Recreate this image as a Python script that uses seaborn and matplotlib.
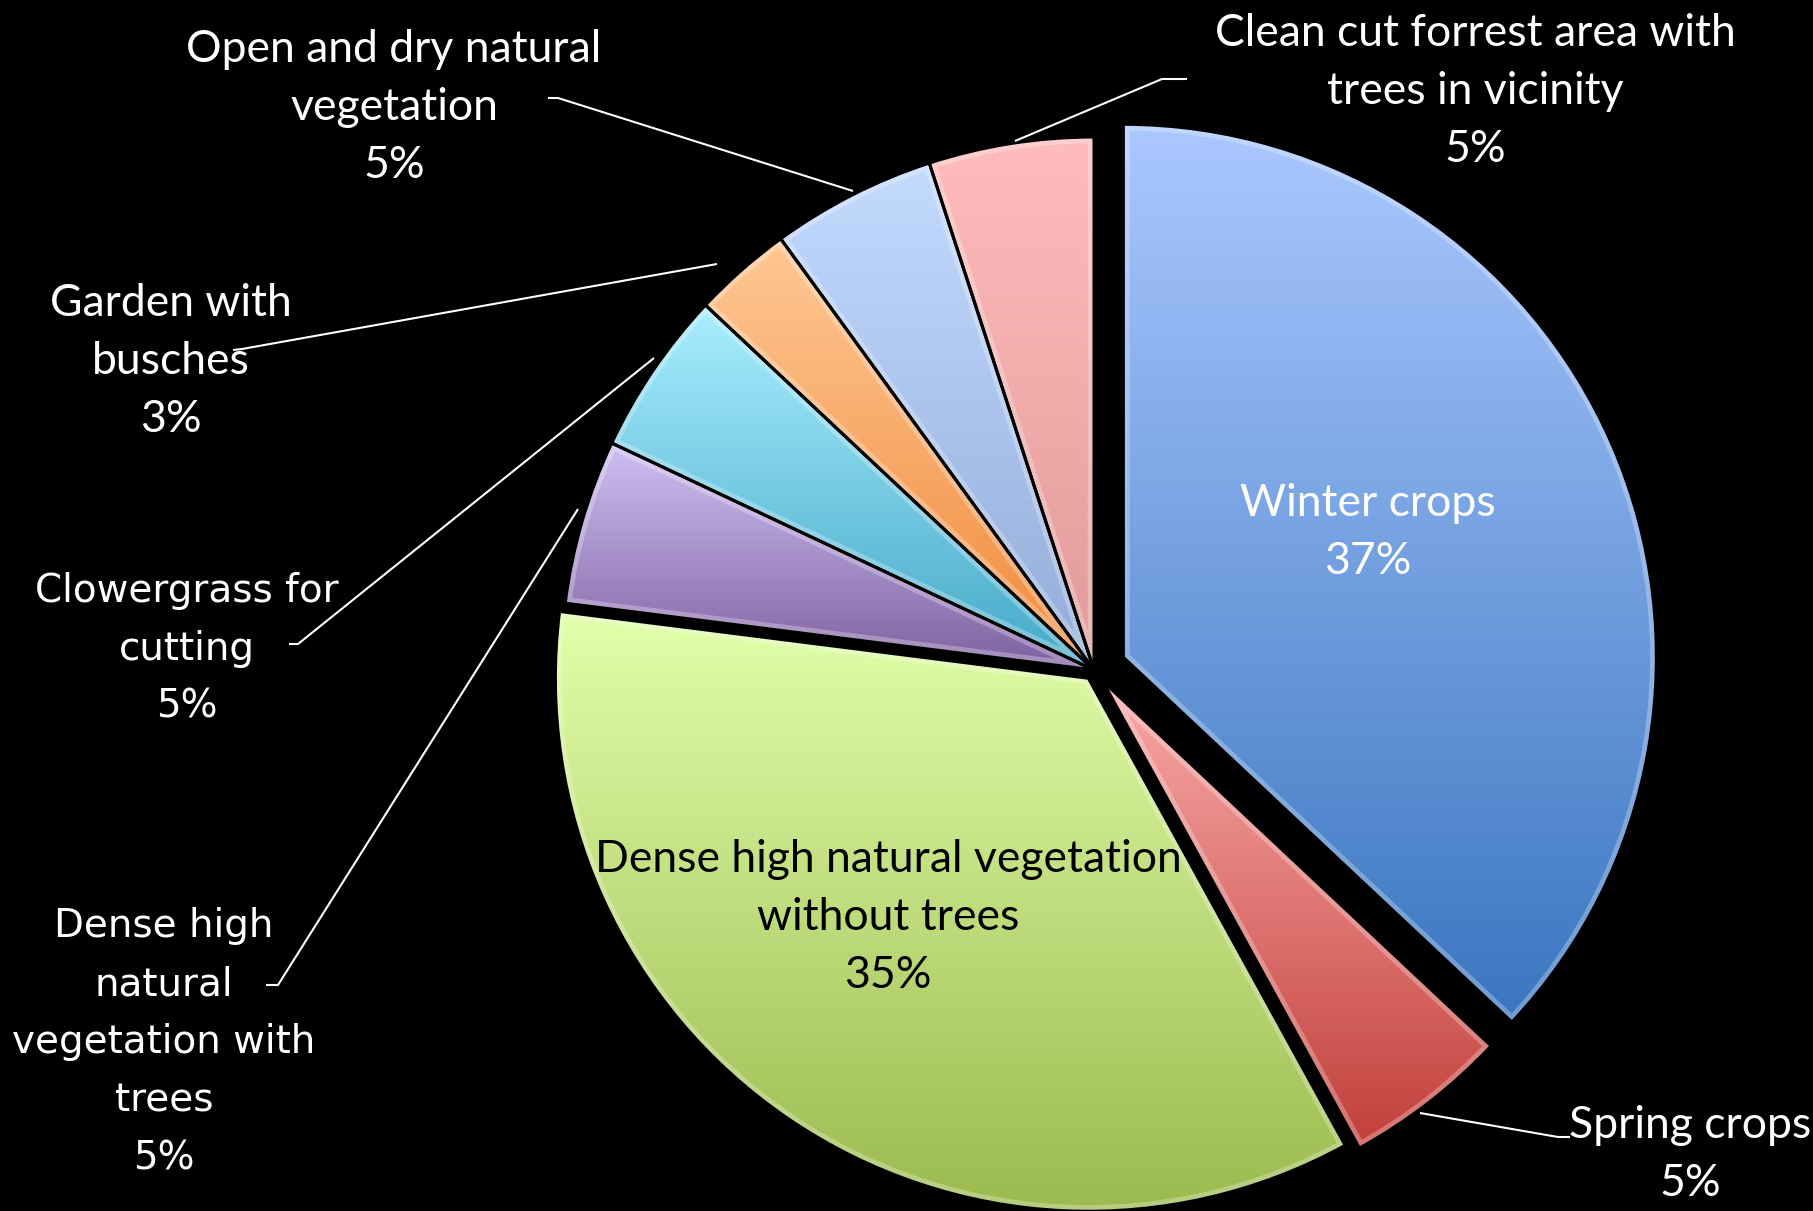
import numpy as np
import matplotlib
matplotlib.use("Agg")
import matplotlib.pyplot as plt
from matplotlib.patches import Wedge
import seaborn as sns

# Land-use shares (percent), clockwise from 12 o'clock
categories = [
    "Winter crops",
    "Spring crops",
    "Dense high natural vegetation without trees",
    "Dense high natural vegetation with trees",
    "Clowergrass for cutting",
    "Garden with busches",
    "Open and dry natural vegetation",
    "Clean cut forrest area with trees in vicinity",
]
shares = [37, 5, 35, 5, 5, 3, 5, 5]

# Label text, broken into lines as displayed
label_lines = [
    ["Winter crops"],
    ["Spring crops"],
    ["Dense high natural vegetation", "without trees"],
    ["Dense high", "natural", "vegetation with", "trees"],
    ["Clowergrass for", "cutting"],
    ["Garden with", "busches"],
    ["Open and dry natural", "vegetation"],
    ["Clean cut forrest area with", "trees in vicinity"],
]

# Gradient colours for each slice (top, bottom)
top_colors = ["#abc8ff", "#f9aaa8", "#e2ffab", "#d0c0f2", "#aaeeff", "#ffc894", "#c4dbff", "#ffbcbc"]
bottom_colors = ["#3a76c0", "#c23f3b", "#9bba4e", "#7e60a0", "#44a8c8", "#f08a3c", "#93acd8", "#e29a9a"]

sns.set_style("white")

W, H = 1813, 1211
fig = plt.figure(figsize=(W / 100, H / 100), dpi=100, facecolor="black")
ax = fig.add_axes([0, 0, 1, 1])
ax.set_facecolor("black")

cx, cy, R = 1094, H - 670, 533
explode = [32, 14, 10, 0, 0, 0, 0, 0]

wedges, _ = ax.pie(
    shares, startangle=90, counterclock=False, radius=R,
    center=(cx, cy), explode=explode,
    wedgeprops=dict(linewidth=0),
)

for w, top, bot in zip(wedges, top_colors, bottom_colors):
    w.set_facecolor("none")
    bb = w.get_path().get_extents()
    ramp = np.array(sns.blend_palette([bot, top], n_colors=256))[:, None, :]
    im = ax.imshow(ramp, extent=[bb.x0, bb.x1, bb.y0, bb.y1], origin="lower",
                   aspect="auto", interpolation="bilinear", zorder=1)
    im.set_clip_path(w)
    # soft bevel along the slice border
    rim = Wedge(w.center, w.r, w.theta1, w.theta2, facecolor="none",
                edgecolor="white", linewidth=9, alpha=0.28, zorder=2)
    ax.add_patch(rim)
    rim.set_clip_path(w)
    w.set_edgecolor("black")
    w.set_linewidth(2.2)
    w.set_zorder(3)

calibri_like = "Lato"
wide_font = "DejaVu Sans"


def put_label(x, y_mid, lines, font, size, color="white", pitch=58):
    n = len(lines)
    for i, line in enumerate(lines):
        y = y_mid + ((n - 1) / 2 - i) * pitch
        ax.text(x, y, line, ha="center", va="center_baseline", color=color,
                fontsize=size, family=font, zorder=5)


pct = [f"{v}%" for v in shares]

# text placement: (x, y of middle line in image rows, font, size, colour)
label_pos = [
    (1368, 528, calibri_like, 32, "white"),
    (1690, 1150, calibri_like, 32, "white"),
    (888, 913, calibri_like, 32, "black"),
    (164, 1038, wide_font, 28, "white"),
    (187, 645, wide_font, 28, "white"),
    (171, 358, calibri_like, 32, "white"),
    (394, 104, calibri_like, 32, "white"),
    (1475, 87, calibri_like, 32, "white"),
]

for lines, p, (x, yrow, font, size, col) in zip(label_lines, pct, label_pos):
    put_label(x, H - yrow, lines + [p], font, size, color=col)

# leader lines (image rows converted to axis units)
leaders = [
    [(1420, 1113), (1558, 1137), (1570, 1137)],
    [(266, 985), (278, 985), (578, 509)],
    [(289, 644), (298, 644), (654, 358)],
    [(233, 350), (242, 349), (717, 264)],
    [(548, 98), (558, 98), (853, 191)],
    [(1187, 79), (1162, 79), (1015, 141)],
]
for pts in leaders:
    xs = [p[0] for p in pts]
    ys = [H - p[1] for p in pts]
    ax.plot(xs, ys, color="white", linewidth=1.5, zorder=4, solid_capstyle="butt")

ax.set_xlim(0, W)
ax.set_ylim(0, H)
ax.set_aspect("auto")
ax.axis("off")

fig.savefig("out.png", dpi=100, facecolor="black")
